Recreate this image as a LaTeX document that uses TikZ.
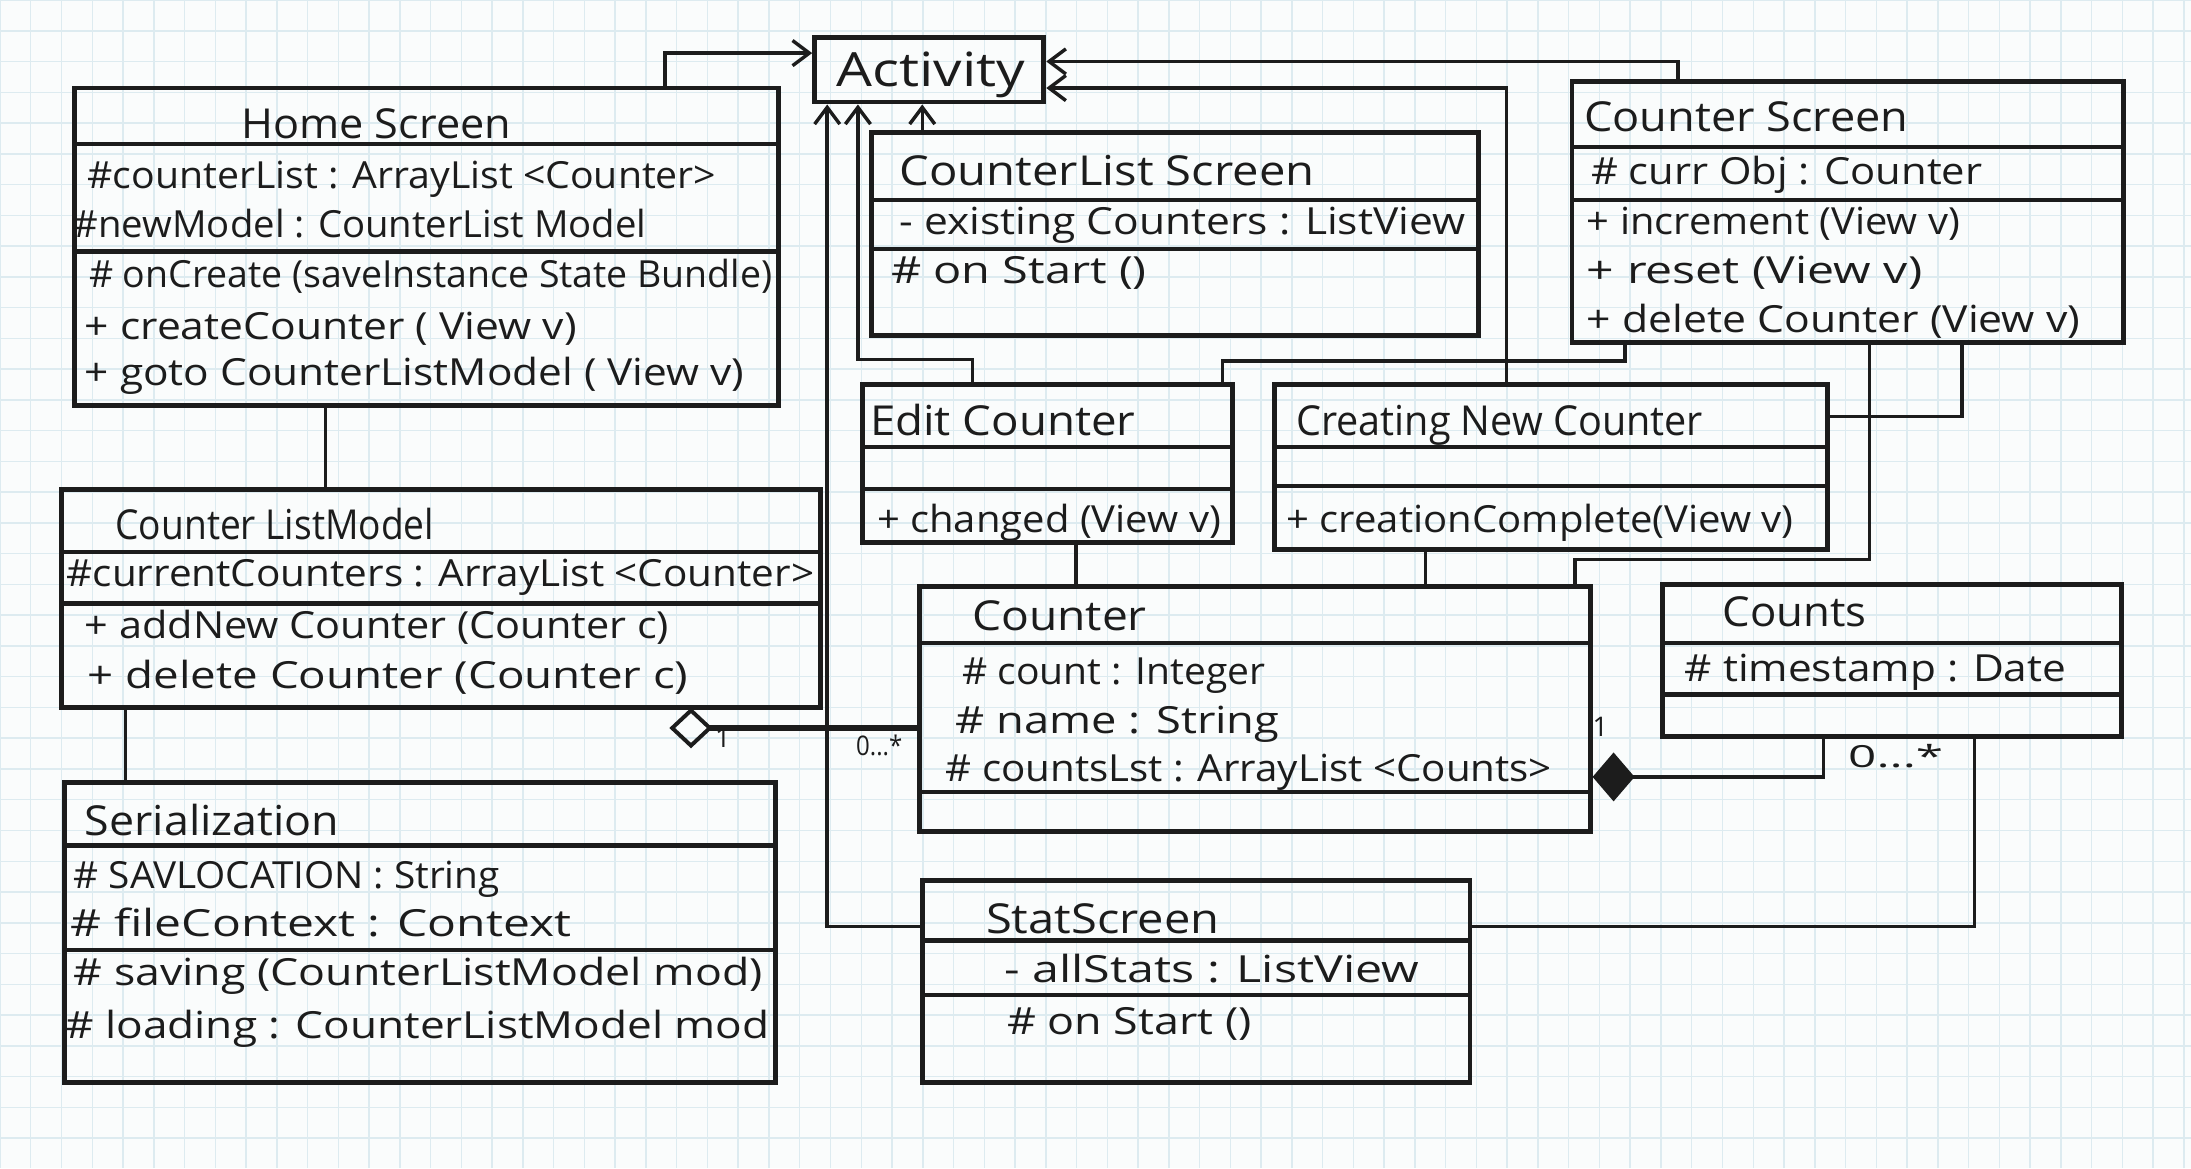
\documentclass[tikz,border=0pt]{standalone}
\usepackage{fontspec}
\setmainfont{Open Sans}
\usetikzlibrary{arrows.meta,fit}
\newlength\pxu \setlength\pxu{0.01cm}
\newcommand{\hfit}[2]{\resizebox{#1\pxu}{\height}{#2}}
\definecolor{paper}{HTML}{FAFCFC}
\definecolor{gridc}{HTML}{DDEBF0}
\definecolor{ink}{HTML}{1C1C1C}
\begin{document}
\begin{tikzpicture}[x=0.01cm,y=-0.01cm,
  box/.style={draw=ink, line width=1pt, inner sep=0pt},
  sepline/.style={draw=ink, line width=0.9pt},
  txt/.style={anchor=base west, inner sep=0pt, text=ink, font=\fontsize{7.6}{9}\selectfont},
  ttl/.style={txt, font=\fontsize{8.4}{10}\selectfont},
  conn/.style={draw=ink, line width=0.7pt},
  arr/.style={conn, -{Straight Barb[length=0.12cm,width=0.18cm]}},
  mult/.style={anchor=base west, inner sep=0pt, text=ink, font=\fontsize{5.5}{6}\selectfont},
]
\useasboundingbox (0,0) rectangle (1568,836);
\fill[paper] (0,0) rectangle (1568,836);
\draw[gridc, line width=0.3pt, step=0.22cm] (0,0) grid (1568,836);

% ---------- boxes ----------
\node[box, fit={(583,27) (747,73)}] (act) {};
\node[box, fit={(53,63) (557,290)}] (home) {};
\node[box, fit={(624,95) (1058,240)}] (cls) {};
\node[box, fit={(1125,58) (1520,245)}] (cs) {};
\node[box, fit={(617,275) (882,388)}] (edit) {};
\node[box, fit={(912,275) (1308,393)}] (cnc) {};
\node[box, fit={(44,350) (587,506)}] (clm) {};
\node[box, fit={(658,420) (1138,595)}] (ctr) {};
\node[box, fit={(1190,418) (1518,527)}] (cnts) {};
\node[box, fit={(46,560) (555,775)}] (ser) {};
\node[box, fit={(660,630) (1052,775)}] (stat) {};

% compartment separators
\draw[sepline] (53,103) -- (557,103);  \draw[sepline] (53,180) -- (557,180);
\draw[sepline] (624,143) -- (1058,143); \draw[sepline] (624,178) -- (1058,178);
\draw[sepline] (1125,105) -- (1520,105); \draw[sepline] (1125,143) -- (1520,143);
\draw[sepline] (617,320) -- (882,320);  \draw[sepline] (617,350) -- (882,350);
\draw[sepline] (912,320) -- (1308,320); \draw[sepline] (912,348) -- (1308,348);
\draw[sepline] (44,395) -- (587,395);   \draw[sepline] (44,432) -- (587,432);
\draw[sepline] (658,460) -- (1138,460); \draw[sepline] (658,567) -- (1138,567);
\draw[sepline] (1190,460) -- (1518,460); \draw[sepline] (1190,497) -- (1518,497);
\draw[sepline] (46,605) -- (555,605);   \draw[sepline] (46,680) -- (555,680);
\draw[sepline] (660,673) -- (1052,673); \draw[sepline] (660,712) -- (1052,712);

% ---------- texts ----------
\node[txt, font=\fontsize{9.6}{12}\selectfont] (t-act) at (598,62) {\hfit{135}{Activity}};

\node[ttl] (hs0) at (172,99) {\hfit{193}{Home Screen}};
\node[txt] (hs1) at (62,135) {\hfit{450}{\#counterList : ArrayList <Counter>}};
\node[txt] (hs2) at (52,170) {\hfit{410}{\#newModel : CounterList Model}};
\node[txt] (hs3) at (63,206) {\hfit{489}{\# onCreate (saveInstance State Bundle)}};
\node[txt] (hs4) at (60,243) {\hfit{352}{+ createCounter ( View v)}};
\node[txt] (hs5) at (60,276) {\hfit{472}{+ goto CounterListModel ( View v)}};

\node[ttl] (cl0) at (643,133) {\hfit{297}{CounterList Screen}};
\node[txt] (cl1) at (643,168) {\hfit{405}{- existing Counters : ListView}};
\node[txt] (cl2) at (637,203) {\hfit{183}{\# on Start ()}};

\node[ttl] (cs0) at (1133,94) {\hfit{232}{Counter Screen}};
\node[txt] (cs1) at (1138,132) {\hfit{280}{\# curr Obj : Counter}};
\node[txt] (cs2) at (1135,168) {\hfit{267}{+ increment (View v)}};
\node[txt] (cs3) at (1135,203) {\hfit{240}{+ reset (View v)}};
\node[txt] (cs4) at (1135,238) {\hfit{353}{+ delete Counter (View v)}};

\node[ttl] (ed0) at (622,312) {\hfit{190}{Edit Counter}};
\node[txt] (ed1) at (627,381) {\hfit{246}{+ changed (View v)}};

\node[ttl] (cn0) at (927,312) {\hfit{291}{Creating New Counter}};
\node[txt] (cn1) at (920,381) {\hfit{363}{+ creationComplete(View v)}};

\node[ttl] (cm0) at (82,386) {\hfit{228}{Counter ListModel}};
\node[txt] (cm1) at (47,420) {\hfit{535}{\#currentCounters : ArrayList <Counter>}};
\node[txt] (cm2) at (60,457) {\hfit{418}{+ addNew Counter (Counter c)}};
\node[txt] (cm3) at (62,493) {\hfit{430}{+ delete Counter (Counter c)}};

\node[ttl] (ct0) at (695,451) {\hfit{125}{Counter}};
\node[txt] (ct1) at (688,490) {\hfit{217}{\# count : Integer}};
\node[txt] (ct2) at (683,525) {\hfit{232}{\# name : String}};
\node[txt] (ct3) at (676,559) {\hfit{434}{\# countsLst : ArrayList <Counts>}};

\node[ttl] (co0) at (1232,448) {\hfit{103}{Counts}};
\node[txt] (co1) at (1205,488) {\hfit{273}{\# timestamp : Date}};

\node[ttl] (se0) at (60,598) {\hfit{182}{Serialization}};
\node[txt] (se1) at (52,636) {\hfit{305}{\# SAVLOCATION : String}};
\node[txt] (se2) at (50,670) {\hfit{358}{\# fileContext : Context}};
\node[txt] (se3) at (52,705) {\hfit{493}{\# saving (CounterListModel mod)}};
\node[txt] (se4) at (46,743) {\hfit{504}{\# loading : CounterListModel mod}};

\node[ttl] (st0) at (705,668) {\hfit{167}{StatScreen}};
\node[txt] (st1) at (718,703) {\hfit{297}{- allStats : ListView}};
\node[txt] (st2) at (720,740) {\hfit{175}{\# on Start ()}};

% ---------- connectors ----------
\draw[arr] (home.north -| 476,0) |- (act.west |- 0,38);
\draw[arr] (cls.north -| 660,0) -- (act.south -| 660,0);
\draw[arr] (edit.north -| 696,0) -- ++(0,-16) -| (act.south -| 614,0);
\draw[arr] (stat.west |- 0,663) -| (act.south -| 592,0);
\draw[arr] (cnc.north -| 1078,0) |- (act.east |- 0,63);
\draw[arr] (cs.north -| 1201,0) |- (act.east |- 0,44);

\draw[conn] (edit.north -| 875,0) -- ++(0,-15) -| (cs.south -| 1163,0);
\draw[conn] (cnc.east |- 0,298) -| (cs.south -| 1404,0);
\draw[conn] (ctr.north -| 1127,0) -- ++(0,-18) -| (cs.south -| 1338,0);
\draw[conn] (edit.south -| 770,0) -- (ctr.north -| 770,0);
\draw[conn] (cnc.south -| 1020,0) -- (ctr.north -| 1020,0);
\draw[conn] (home.south -| 233,0) -- (clm.north -| 233,0);
\draw[conn] (clm.south -| 90,0) -- (ser.north -| 90,0);

% aggregation CounterListModel <>-- Counter
\coordinate (aggp) at (479,521);
\draw[draw=ink, line width=1.3pt, {Diamond[open,length=0.31cm,width=0.29cm,line width=0.8pt]}-] (aggp) -- (ctr.west |- aggp);
% composition Counter <#>-- Counts
\draw[conn, {Diamond[length=0.30cm,width=0.35cm]}-] (ctr.east |- 0,556) -- (1305,556) -- (cnts.south -| 1305,0);
% Counts -- StatScreen
\draw[conn] (cnts.south -| 1413,0) |- (stat.east |- 0,663);

% multiplicities
\node[mult] (m1) at (511,535) {1};
\node[mult] (m2) at (612,541) {\hfit{33}{0...*}};
\node[mult] (m3) at (1139,527) {1};
\node[mult, font=\fontsize{6.2}{7}\selectfont] (m4) at (1322,549) {\hfit{68}{0...*}};
\end{tikzpicture}
\end{document}
